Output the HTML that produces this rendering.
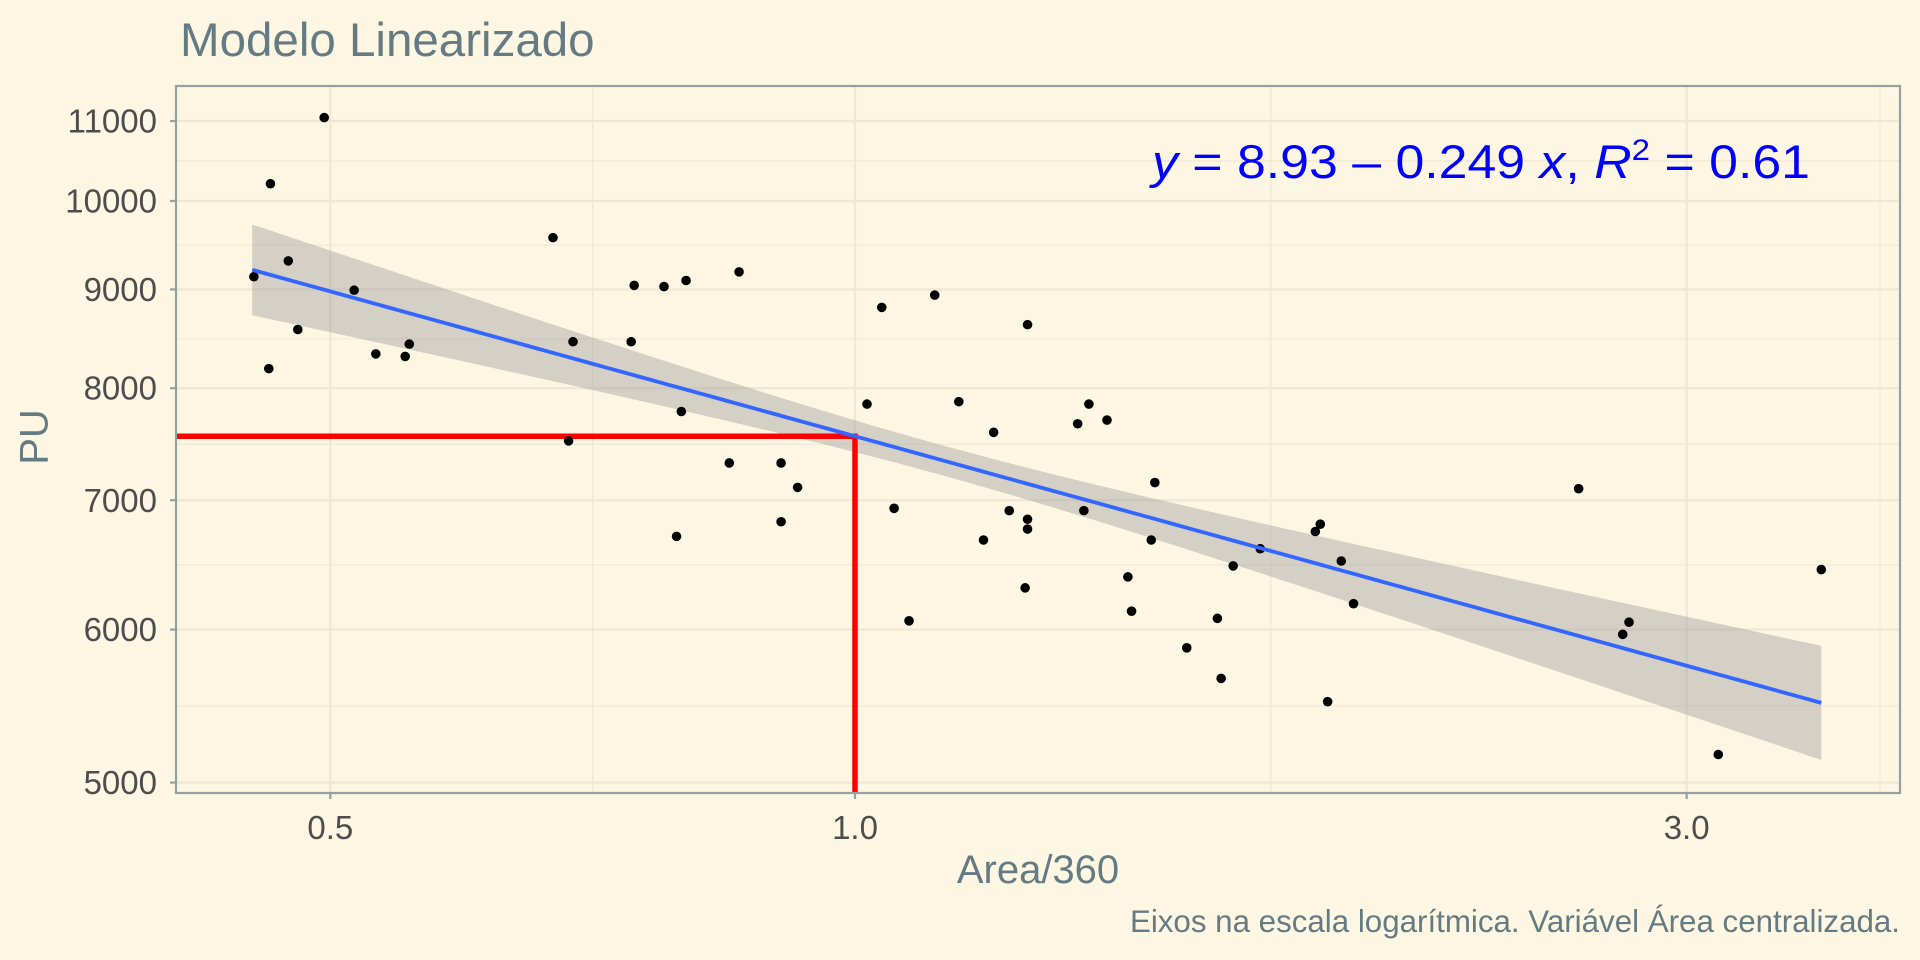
<!DOCTYPE html>
<html><head><meta charset="utf-8"><style>
html,body{margin:0;padding:0;background:#fdf6e3;}
svg{display:block;font-family:"Liberation Sans",sans-serif;}
</style></head><body>
<svg id="chart" width="1920" height="960" viewBox="0 0 1920 960">
<rect x="0" y="0" width="1920" height="960" fill="#fdf6e3"/>
<text x="180" y="56" font-size="47.5" fill="#657b83">Modelo Linearizado</text>
<g id="grid"></g>
<g id="ribbon"></g>
<g id="refl"></g>
<g id="pts"></g>
<g id="fit"></g>
<rect x="176" y="86" width="1724" height="707" fill="none" stroke="#93a1a1" stroke-width="2.2"/>
<g id="axes"></g>
<text x="1810" y="178" font-size="47" fill="#0000ff" text-anchor="end" textLength="658" lengthAdjust="spacingAndGlyphs"><tspan font-style="italic">y</tspan> = 8.93 – 0.249 <tspan font-style="italic">x</tspan>, <tspan font-style="italic">R</tspan><tspan font-size="30" dy="-18">2</tspan><tspan dy="18"> = 0.61</tspan></text>
<text x="37" y="437" font-size="40" fill="#657b83" text-anchor="middle" transform="rotate(-90 37 437)" dominant-baseline="middle">PU</text>
<text x="1038" y="883" font-size="40" fill="#657b83" text-anchor="middle">Area/360</text>
<text x="1900" y="932" font-size="31.3" fill="#657b83" text-anchor="end">Eixos na escala logarítmica. Variável Área centralizada.</text>
</svg>
<script>
const areaVals=[0.452,0.462,0.461,0.473,0.479,0.496,0.516,0.531,0.552,0.555,0.671,0.685,0.689,0.744,0.747,0.777,0.790,0.795,0.800,0.847,0.858,0.907,0.907,0.927,1.016,1.036,1.053,1.074,1.111,1.147,1.185,1.201,1.226,1.252,1.256,1.256,1.256,1.342,1.353,1.362,1.395,1.434,1.441,1.479,1.486,1.550,1.614,1.622,1.648,1.708,1.837,1.849,1.867,1.901,1.932,2.601,2.757,2.780,3.128,3.584];
const puVals=[9137,10208,8189,9311,8580,11045,8991,8334,8309,8432,9573,7513,8456,8456,9043,9030,6705,7781,9096,7318,9190,7318,6823,7108,7850,8809,6933,6063,8939,7873,6676,7590,6914,6306,6843,6764,8630,7668,6914,7850,7702,6389,6133,6676,7149,5871,6081,5661,6473,6607,6744,6803,5506,6511,6188,7097,5966,6053,5170,6445];
const xTicks=[0.5,1.0,3.0];
const xTickLabels=["0.5","1.0","3.0"];
const xMinor=[0.7071,1.732,3.873];
const yTicks=[5000,6000,7000,8000,9000,10000,11000];
const yTickLabels=["5000","6000","7000","8000","9000","10000","11000"];
const fitCoef=[8.93,-0.249];
const fitRange=[0.451,3.584];
const ciParams=[0.00032,0.00317,0.111];
const refArea=[1.0];

const NS="http://www.w3.org/2000/svg";
const L=176,R=1900,T=86,B=793;
function X(a){return 855+757*Math.log(a);}
function Y(v){return 201-839*Math.log(v/10000);}
function mk(tag,attrs,parent){const e=document.createElementNS(NS,tag);for(const k in attrs)e.setAttribute(k,attrs[k]);parent.appendChild(e);return e;}
const grid=document.getElementById('grid'),axes=document.getElementById('axes');
for(let i=0;i<yTicks.length-1;i++){const v=Math.sqrt(yTicks[i]*yTicks[i+1]);
 const l=mk('line',{x1:L,x2:R,y1:Y(v),y2:Y(v),stroke:'#eee8d5','stroke-width':1.2},grid);
 
 }
xMinor.forEach(a=>{const l=mk('line',{x1:X(a),x2:X(a),y1:T,y2:B,stroke:'#eee8d5','stroke-width':1.2},grid);
 
 });
yTicks.forEach((v,i)=>{const y=Y(v);
 const g=mk('line',{x1:L,x2:R,y1:y,y2:y,stroke:'#eee8d5','stroke-width':2.4},grid);
 
 
 const t=mk('line',{x1:L-6,x2:L,y1:y,y2:y,stroke:'#93a1a1','stroke-width':2.2},axes);
 
 
 const tx=mk('text',{x:L-19,y:y+11.5,'font-size':33,fill:'#4d4d4d','text-anchor':'end'},axes);
 tx.textContent=yTickLabels[i];
 
 });
xTicks.forEach((a,i)=>{const x=X(a);
 const g=mk('line',{x1:x,x2:x,y1:T,y2:B,stroke:'#eee8d5','stroke-width':2.4},grid);
 
 
 const t=mk('line',{x1:x,x2:x,y1:B,y2:B+6,stroke:'#93a1a1','stroke-width':2.2},axes);
 
 
 const tx=mk('text',{x:x,y:839,'font-size':33,fill:'#4d4d4d','text-anchor':'middle'},axes);
 tx.textContent=xTickLabels[i];
 
 });
const N=80,up=[],lo=[],ln=[];
for(let i=0;i<=N;i++){const la=Math.log(fitRange[0])+(Math.log(fitRange[1])-Math.log(fitRange[0]))*i/N;
 const f=fitCoef[0]+fitCoef[1]*la;const h=Math.sqrt(ciParams[0]+ciParams[1]*(la-ciParams[2])**2);
 const px=X(Math.exp(la));ln.push(px+','+Y(Math.exp(f)));up.push(px+','+Y(Math.exp(f+h)));lo.push(px+','+Y(Math.exp(f-h)));}
const rb=mk('polygon',{points:up.concat(lo.reverse()).join(' '),fill:'#999999','fill-opacity':0.4},document.getElementById('ribbon'));


const fl=mk('polyline',{points:ln.join(' '),fill:'none',stroke:'#3366ff','stroke-width':3.8},document.getElementById('fit'));


const rx=X(refArea[0]),ry=Y(Math.exp(fitCoef[0]+fitCoef[1]*Math.log(refArea[0])));
const refl=document.getElementById('refl');
const h1=mk('line',{x1:L,x2:rx,y1:ry,y2:ry,stroke:'#ff0000','stroke-width':5.5},refl);


const v1=mk('line',{x1:rx,x2:rx,y1:ry-2.7,y2:B,stroke:'#ff0000','stroke-width':5.5},refl);


const pts=document.getElementById('pts');
areaVals.forEach((a,i)=>{const c=mk('circle',{cx:X(a),cy:Y(puVals[i]),r:4.8,fill:'#000'},pts);
 
 });
</script>
</body></html>
